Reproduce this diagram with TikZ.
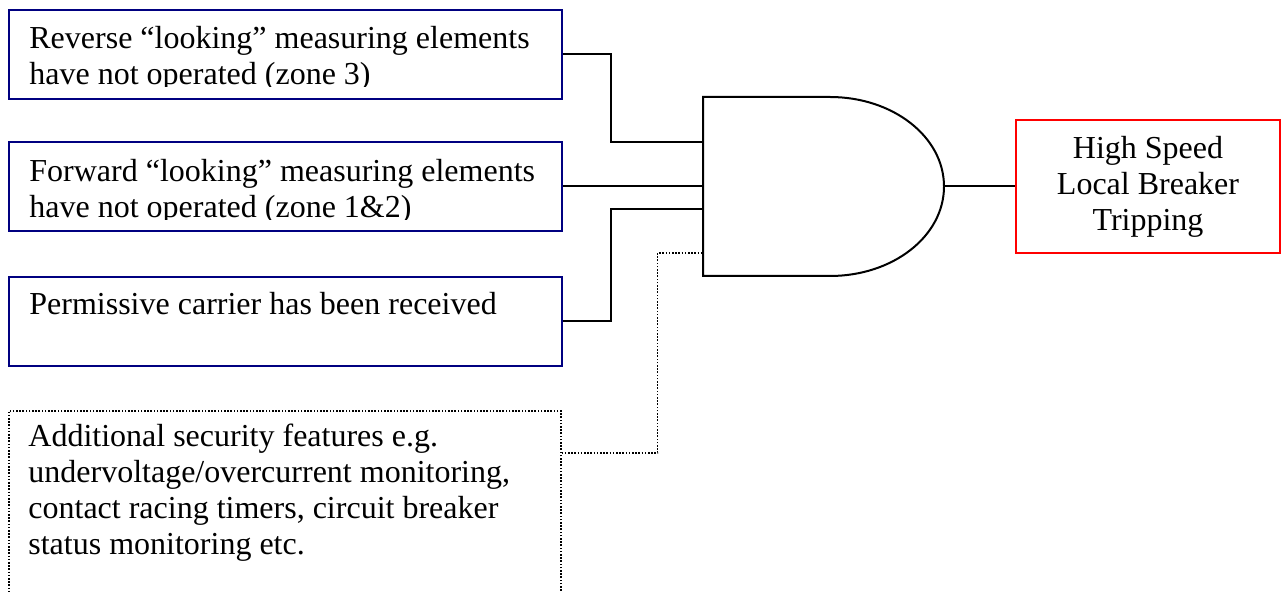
\documentclass[tikz,border=0pt]{standalone}
\usepackage{fontspec}
\setmainfont{Liberation Serif}
\definecolor{navy}{RGB}{0,0,128}
\definecolor{tripred}{RGB}{255,0,0}

\tikzset{
  cond/.style={draw=navy, line width=1pt, anchor=north west, minimum width=276.5pt, minimum height=44.5pt},
  extra/.style={line width=0.8pt, dash pattern=on 0.8pt off 0.8pt},
  wire/.style={draw, line width=1pt},
  txt/.style={anchor=base west, align=left, inner sep=0pt, font=\fontsize{16}{18}\selectfont}
}

\begin{document}
\begin{tikzpicture}[x=0.5pt, y=-0.5pt]
  \useasboundingbox (0,0) rectangle (1285,592);

  % the three conditions, text cut off at the box foot as in the print
  % (txt nodes sit on the baseline of their last line)
  \foreach \n/\top in {rev/9, fwd/141, perm/276}
    \node[cond] (\n) at (8,\top) {};
  \begin{scope}
    \clip (rev.north west) rectangle (560,87);
    \node[txt] (revtxt) at (29,85) {Reverse “looking” measuring elements\\have not operated (zone 3)};
  \end{scope}
  \begin{scope}
    \clip (fwd.north west) rectangle (560,220);
    \node[txt] (fwdtxt) at (29,218) {Forward “looking” measuring elements\\have not operated (zone 1\&2)};
  \end{scope}
  \node[txt] (permtxt) at (29,315) {Permissive carrier has been received};

  % optional extras, box runs off the page
  \node[draw, extra, anchor=north west, minimum width=276pt, minimum height=110pt] (extra) at (8,410) {};
  \node[txt] (extratxt) at (28,555) {Additional security features e.g.\\undervoltage/overcurrent monitoring,\\contact racing timers, circuit breaker\\status monitoring etc.};

  % AND gate
  \draw[line width=1pt] (830,97) -- (703,97) -- (703,276) -- (830,276)
    .. controls (893,276) and (944,236.2) .. (944,186.5)
    .. controls (944,136.8) and (893,97) .. (830,97);
  \foreach \i/\y in {1/142, 2/186.5, 3/209, 4/253}
    \coordinate (in\i) at (703,\y);
  \coordinate (out) at (944,186.5);

  \node[draw=tripred, line width=1pt, minimum width=132pt, minimum height=66.5pt, align=center,
    font=\fontsize{16}{18}\selectfont] (trip) at (1148,186.5) {High Speed\\Local Breaker\\Tripping};

  \draw[wire] (rev.east) -- ++(48,0) |- (in1);
  \draw[wire] (fwd.east) -- (fwd.east -| in2);
  \draw[wire] (perm.east) -- ++(48,0) |- (in3);
  \draw[extra] (extra.north east) ++(0,43) -- ++(96,0) |- (in4);
  \draw[wire] (out) -- (trip);
\end{tikzpicture}
\end{document}
